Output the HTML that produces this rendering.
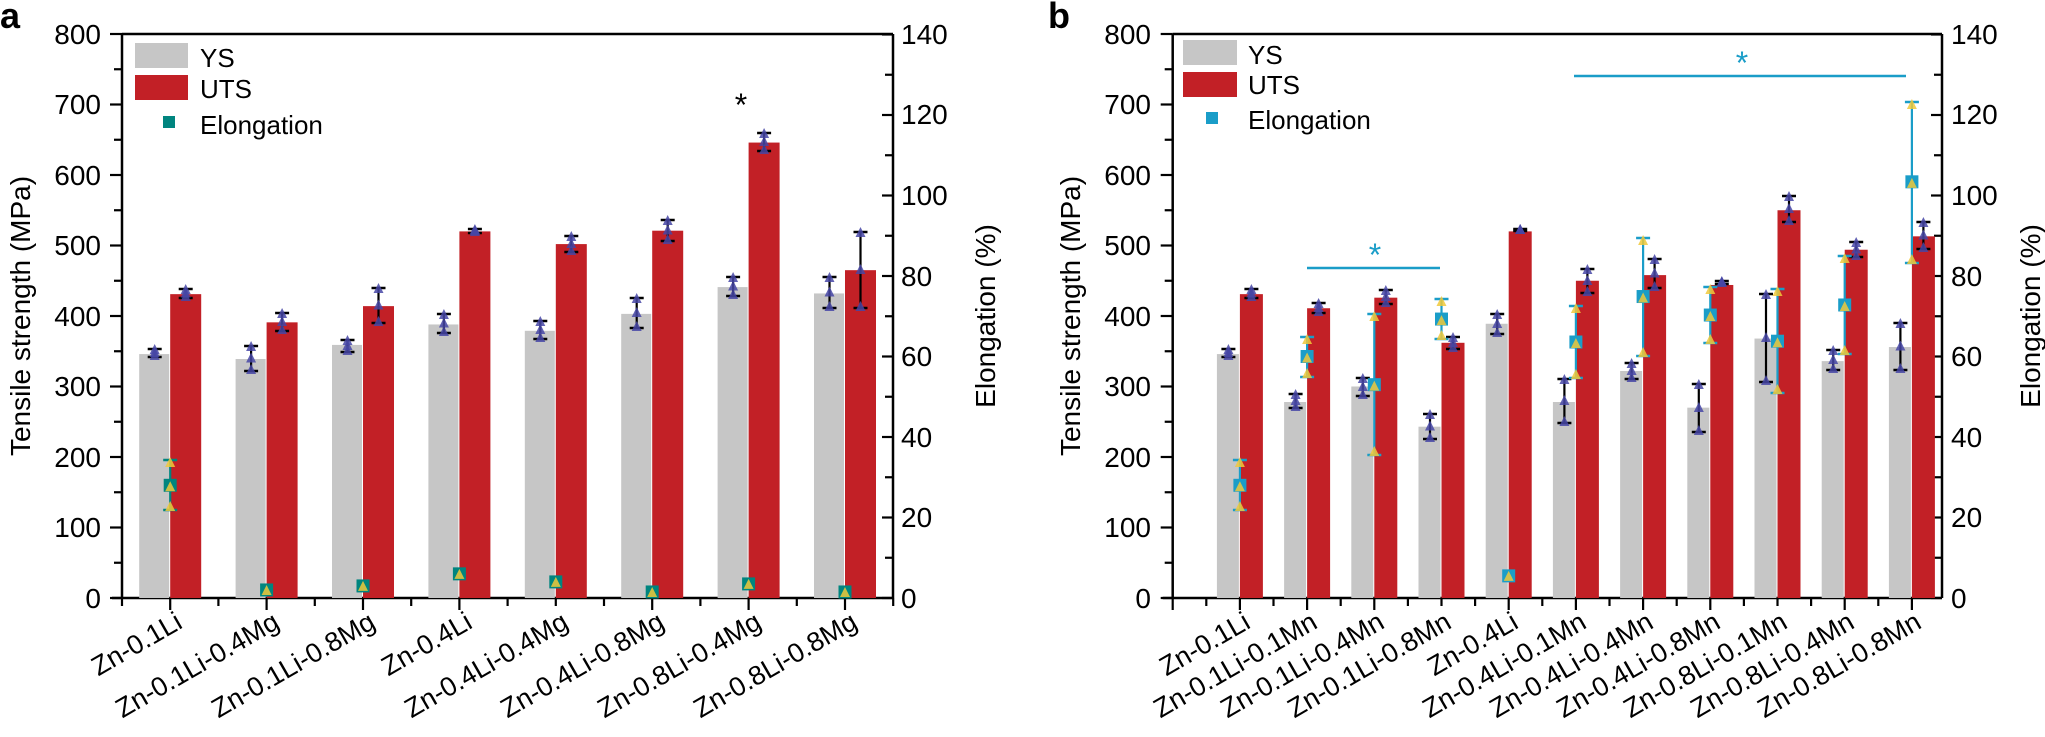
<!DOCTYPE html>
<html><head><meta charset="utf-8"><style>
html,body{margin:0;padding:0;background:#fff;}
svg{display:block;font-family:"Liberation Sans",Arial,sans-serif;}
</style></head><body>
<svg id="s" width="2045" height="737" viewBox="0 0 2045 737" xmlns="http://www.w3.org/2000/svg">
<g id="dyn"></g>
<g fill="#000" font-size="28">
<text x="0" y="28" font-size="36" font-weight="bold">a</text>
<text x="1048" y="28" font-size="36" font-weight="bold">b</text>
<g text-anchor="end">
<text x="101" y="44">800</text><text x="101" y="114">700</text><text x="101" y="185">600</text><text x="101" y="255">500</text>
<text x="101" y="326">400</text><text x="101" y="396">300</text><text x="101" y="467">200</text><text x="101" y="537">100</text><text x="101" y="608">0</text>
<text x="1151" y="44">800</text><text x="1151" y="114">700</text><text x="1151" y="185">600</text><text x="1151" y="255">500</text>
<text x="1151" y="326">400</text><text x="1151" y="396">300</text><text x="1151" y="467">200</text><text x="1151" y="537">100</text><text x="1151" y="608">0</text>
</g>
<g text-anchor="start">
<text x="901" y="44">140</text><text x="901" y="124">120</text><text x="901" y="205">100</text><text x="901" y="286">80</text>
<text x="901" y="366">60</text><text x="901" y="447">40</text><text x="901" y="527">20</text><text x="901" y="608">0</text>
<text x="1951" y="44">140</text><text x="1951" y="124">120</text><text x="1951" y="205">100</text><text x="1951" y="286">80</text>
<text x="1951" y="366">60</text><text x="1951" y="447">40</text><text x="1951" y="527">20</text><text x="1951" y="608">0</text>
</g>
<text transform="translate(30,316) rotate(-90)" text-anchor="middle" font-size="28">Tensile strength (MPa)</text>
<text transform="translate(1080,316) rotate(-90)" text-anchor="middle" font-size="28">Tensile strength (MPa)</text>
<text transform="translate(995,316) rotate(-90)" text-anchor="middle" font-size="28">Elongation (%)</text>
<text transform="translate(2040,316) rotate(-90)" text-anchor="middle" font-size="28">Elongation (%)</text>
<text x="200" y="67" font-size="26">YS</text><text x="200" y="98" font-size="26">UTS</text><text x="200" y="134" font-size="26">Elongation</text>
<text x="1248" y="64" font-size="26">YS</text><text x="1248" y="94" font-size="26">UTS</text><text x="1248" y="129" font-size="26">Elongation</text>
<text x="741" y="116" font-size="32" text-anchor="middle">*</text>
<text x="1375" y="266" font-size="32" text-anchor="middle" fill="#1a9dc8">*</text>
<text x="1742" y="74" font-size="32" text-anchor="middle" fill="#1a9dc8">*</text>
</g>
<g font-size="27" text-anchor="end" fill="#000">
<text transform="translate(184,627) rotate(-30)">Zn-0.1Li</text>
<text transform="translate(281,627) rotate(-30)">Zn-0.1Li-0.4Mg</text>
<text transform="translate(377,627) rotate(-30)">Zn-0.1Li-0.8Mg</text>
<text transform="translate(474,627) rotate(-30)">Zn-0.4Li</text>
<text transform="translate(570,627) rotate(-30)">Zn-0.4Li-0.4Mg</text>
<text transform="translate(666,627) rotate(-30)">Zn-0.4Li-0.8Mg</text>
<text transform="translate(763,627) rotate(-30)">Zn-0.8Li-0.4Mg</text>
<text transform="translate(859,627) rotate(-30)">Zn-0.8Li-0.8Mg</text>
<text transform="translate(1252,627) rotate(-30)">Zn-0.1Li</text>
<text transform="translate(1319,627) rotate(-30)">Zn-0.1Li-0.1Mn</text>
<text transform="translate(1386,627) rotate(-30)">Zn-0.1Li-0.4Mn</text>
<text transform="translate(1453,627) rotate(-30)">Zn-0.1Li-0.8Mn</text>
<text transform="translate(1520,627) rotate(-30)">Zn-0.4Li</text>
<text transform="translate(1588,627) rotate(-30)">Zn-0.4Li-0.1Mn</text>
<text transform="translate(1655,627) rotate(-30)">Zn-0.4Li-0.4Mn</text>
<text transform="translate(1722,627) rotate(-30)">Zn-0.4Li-0.8Mn</text>
<text transform="translate(1789,627) rotate(-30)">Zn-0.8Li-0.1Mn</text>
<text transform="translate(1856,627) rotate(-30)">Zn-0.8Li-0.4Mn</text>
<text transform="translate(1923,627) rotate(-30)">Zn-0.8Li-0.8Mn</text>
</g>
</svg>
<script>
(function(){
var NS="http://www.w3.org/2000/svg",g=document.getElementById("dyn");
function el(t,a){var e=document.createElementNS(NS,t);for(var k in a)e.setAttribute(k,a[k]);g.appendChild(e);return e;}
function ln(x1,y1,x2,y2,c,w){el("line",{x1:x1,y1:y1,x2:x2,y2:y2,stroke:c,"stroke-width":w||2.5});}
function tri(x,y,c){el("polygon",{points:(x-5)+","+(y+4)+" "+(x+5)+","+(y+4)+" "+x+","+(y-6),fill:c,opacity:0.85});}
function eb(x,t,b,c,w){ln(x,t,x,b,c,2.2);ln(x-w,t,x+w,t,c,2.5);ln(x-w,b,x+w,b,c,2.5);}
var GRAY="#c6c6c6",RED="#c22026",NAVY="#4646a6",YEL="#f0c93a";
function yv(v){return 598-0.705*v;}
function axes(x0,x1,unit,n,off){
 ln(x0,34,x1,34,"#000",2.5);ln(x0,34,x0,598,"#000",2.5);ln(x1,34,x1,598,"#000",2.5);ln(x0-10,598,x1,598,"#000",2.5);
 for(var v=0;v<=800;v+=50){var y=yv(v);ln(x0-(v%100==0?12:8),y,x0,y,"#000",2.2);}
 for(var p=0;p<=140;p+=10){var y=598-4.025*p;ln(x1-(p%20==0?11:8),y,x1,y,"#000",2.2);}
 for(var i=0;i<=2*n+1;i++){var x=x0+i*unit/2;if(x>x1+1)break;var major=Math.abs(((x-x0)/unit-off)%1)<0.01;ln(x,598,x,598+(major?12:8),"#000",2.2);}
}
function panel(xs,bw,ys,uts,ysE,utsE,el_,elE,col){
 for(var i=0;i<xs.length;i++){
  var x=xs[i];
  el("rect",{x:x-bw,y:yv(ys[i]),width:bw-1,height:598-yv(ys[i]),fill:GRAY});
  el("rect",{x:x,y:yv(uts[i]),width:bw,height:598-yv(uts[i]),fill:RED});
  var cy=x-bw/2,cu=x+bw/2;
  eb(cy,ysE[i][0],ysE[i][1],"#000",7);eb(cu,utsE[i][0],utsE[i][1],"#000",7);
  tri(cy,ysE[i][0]+1,NAVY);tri(cy,(ysE[i][0]+ysE[i][1])/2,NAVY);tri(cy,ysE[i][1]-1,NAVY);
  tri(cu,utsE[i][0]+1,NAVY);tri(cu,(utsE[i][0]+utsE[i][1])/2,NAVY);tri(cu,utsE[i][1]-1,NAVY);
  var ey=598-4.025*el_[i];
  if(elE[i]){eb(x,elE[i][0],elE[i][1],col,7);}
  el("rect",{x:x-6.5,y:ey-6.5,width:13,height:13,fill:col});
  if(elE[i]){tri(x,elE[i][0]+3,YEL);tri(x,ey+2,YEL);tri(x,elE[i][1]-3,YEL);}
  else{tri(x,ey+1,YEL);}
 }
}
var xa=[],ua=96.4;for(var i=0;i<8;i++)xa.push(122+(i+0.5)*ua);
axes(122,893,ua,8,0.5);
panel(xa,31,[346,339,359,388,379,403,441,432],[431,391,414,520,502,521,646,465],
 [[349,357],[346,371],[340,352],[314,333],[321,339],[298,328],[277,296],[277,308]],
 [[289,298],[313,331],[288,323],[229,233],[236,252],[220,241],[133,151],[232,308]],
 [28,2,3,6,4,1.5,3.5,1.5],[[460,510],null,null,null,null,null,null,null],"#00857f");
var xb=[],ub=67.2;for(var i=0;i<11;i++)xb.push(1172.7+(i+1)*ub);
axes(1172.7,1942,ub,11,0);
panel(xb,23,[346,278,300,243,389,278,322,270,368,336,356],[431,411,426,362,520,450,458,444,550,494,513],
 [[349,357],[394,408],[378,396],[414,439],[314,334],[379,423],[363,379],[384,432],[294,382],[350,370],[323,370]],
 [[289,298],[303,313],[290,304],[337,349],[229,231],[269,293],[259,288],[281,284],[196,222],[242,257],[222,249]],
 [28,60,53,69.3,5.5,63.6,74.9,70.3,63.8,72.8,103.4],
 [[460,510],[337,377],[314,455],[299,339],null,[306,378],[238,356],[287,343],[289,393],[256,354],[102,263]],"#1a9dc8");
ln(1307,268,1440,268,"#1a9dc8",2.5);ln(1574,76,1906,76,"#1a9dc8",2.5);
el("rect",{x:135,y:43,width:53,height:25,fill:GRAY});el("rect",{x:135,y:75,width:53,height:25,fill:RED});el("rect",{x:163,y:116,width:12,height:12,fill:"#00857f"});
el("rect",{x:1183,y:40,width:54,height:25,fill:GRAY});el("rect",{x:1183,y:72,width:54,height:25,fill:RED});el("rect",{x:1206,y:112,width:12,height:12,fill:"#1a9dc8"});
})();
</script>
</body></html>
